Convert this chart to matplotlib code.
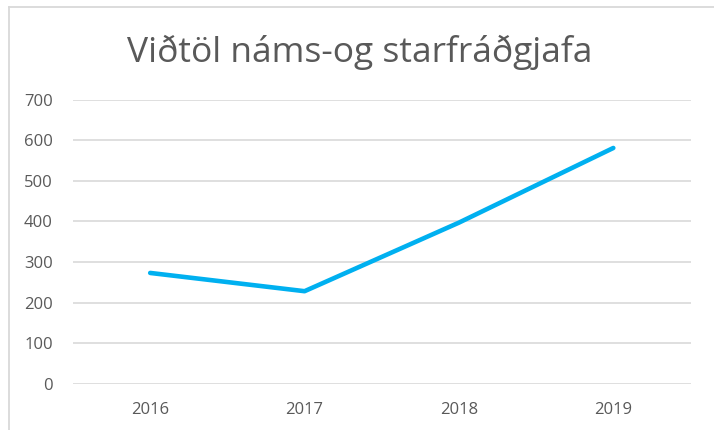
import matplotlib
matplotlib.use("Agg")
import matplotlib.pyplot as plt
from matplotlib.lines import Line2D

years = ["2016", "2017", "2018", "2019"]
values = [273, 228, 397, 581]
yticks = [0, 100, 200, 300, 400, 500, 600, 700]
title = "Viðtöl náms-og starfráðgjafa"

plt.rcParams['font.family'] = ['Open Sans', 'DejaVu Sans']

W, H = 714, 430
fig = plt.figure(figsize=(W/100, H/100), dpi=100)
ax = fig.add_axes([73/W, 1 - 383.7/H, (690.5-73)/W, (383.7-99.7)/H])

x = range(len(years))
ax.plot(x, values, color="#00B0F0", linewidth=3.3, solid_capstyle="round", solid_joinstyle="round", zorder=3)
ax.set_xlim(-0.5, len(years) - 0.5)
ax.set_ylim(0, 700)
ax.set_yticks(yticks)
ax.set_yticklabels([str(v) for v in yticks])
ax.set_xticks(list(x))
ax.set_xticklabels(years)
ax.grid(axis="y", color="#D9D9D9", linewidth=1.2)
ax.set_axisbelow(True)
for s in ax.spines.values():
    s.set_visible(False)
ax.tick_params(axis="both", length=0, labelsize=12, colors="#595959")
ax.tick_params(axis="y", pad=14.4)
ax.tick_params(axis="x", pad=13)

fig.text(360/W, 1 - 52/H, title, ha="center", va="center", fontsize=25.5, color="#595959")

# chart-area border (top and left visible)
fig.add_artist(Line2D([8.5/W, 1], [1 - 6.5/H, 1 - 6.5/H], color="#D9D9D9", linewidth=1.3, transform=fig.transFigure))
fig.add_artist(Line2D([8.5/W, 8.5/W], [0, 1 - 6.5/H], color="#D9D9D9", linewidth=1.3, transform=fig.transFigure))

fig.savefig("out.png", dpi=100, facecolor="white")
